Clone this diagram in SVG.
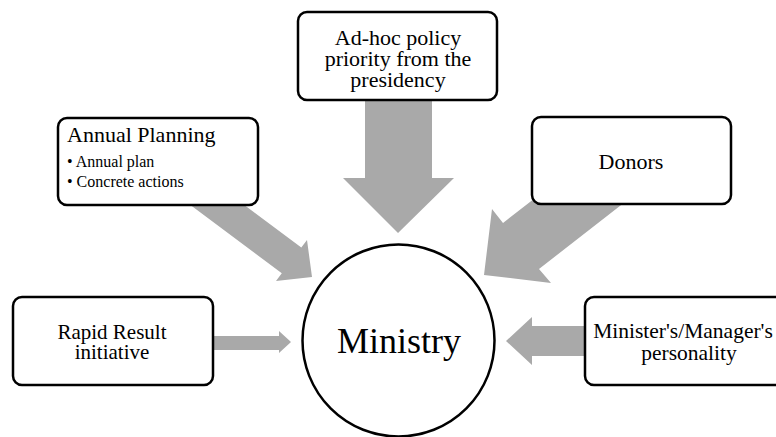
<svg xmlns="http://www.w3.org/2000/svg" width="776" height="437" viewBox="0 0 776 437" font-family="'Liberation Serif', serif">
  <style>
    .box { fill: #ffffff; stroke: #000000; stroke-width: 2.5; }
    .hub { fill: #ffffff; stroke: #000000; stroke-width: 2.5; }
    .flow { fill: #a9a9a9; stroke: none; }
    .lbl { font-family: 'Liberation Serif', serif; font-size: 21px; text-anchor: middle; fill: #000000; }
    .head { font-family: 'Liberation Serif', serif; font-size: 22px; fill: #000000; }
    .sub { font-family: 'Liberation Serif', serif; font-size: 16px; fill: #000000; }
    .big { font-family: 'Liberation Serif', serif; font-size: 36px; text-anchor: middle; fill: #000000; }
  </style>
  <rect width="776" height="437" fill="#ffffff"/>

  <!-- block arrows feeding into the central node (drawn first, boxes sit on top) -->
  <g id="connectors">
    <polygon class="flow" points="365,95 432,95 432,178 454,178 398,233 343,178 365,178"/>
    <polygon class="flow" points="231,195 301.3,247.5 307,240 312,277 276,281 281.8,273.3 177,195"/>
    <polygon class="flow" points="539,195 503,223 492,209 484,275 551,283 539,269 634,195"/>
    <polygon class="flow" points="210,336 279,336 279,331 291,342 279,353 279,350 210,350"/>
    <polygon class="flow" points="590,326 532,326 532,317 506,341 532,365 532,356 590,356"/>
  </g>

  <g id="node-adhoc">
    <rect class="box" x="298" y="12" width="199" height="88" rx="9"/>
    <text class="lbl" x="398" y="45" style="font-size:22px">Ad-hoc policy</text>
    <text class="lbl" x="398" y="66" style="font-size:22px">priority from the</text>
    <text class="lbl" x="398" y="87" style="font-size:22px">presidency</text>
  </g>

  <g id="node-annual">
    <rect class="box" x="58" y="118" width="200" height="87" rx="9"/>
    <text class="head" x="67" y="142">Annual Planning</text>
    <text class="sub" x="67" y="167">• Annual plan</text>
    <text class="sub" x="67" y="187">• Concrete actions</text>
  </g>

  <g id="node-donors">
    <rect class="box" x="532" y="117" width="199" height="87" rx="9"/>
    <text class="lbl" x="631" y="169" style="font-size:22px">Donors</text>
  </g>

  <g id="node-rapid">
    <rect class="box" x="13" y="297" width="200" height="88" rx="9"/>
    <text class="lbl" x="112" y="339">Rapid Result</text>
    <text class="lbl" x="112" y="359">initiative</text>
  </g>

  <g id="node-minister">
    <rect class="box" x="585" y="297" width="200" height="88" rx="9"/>
    <text class="lbl" x="683" y="338" style="font-size:21.5px">Minister's/Manager's</text>
    <text class="lbl" x="689" y="360" style="font-size:21.5px">personality</text>
  </g>

  <g id="node-ministry">
    <circle class="hub" cx="398.5" cy="340.5" r="96"/>
    <text class="big" x="399" y="353">Ministry</text>
  </g>
</svg>
